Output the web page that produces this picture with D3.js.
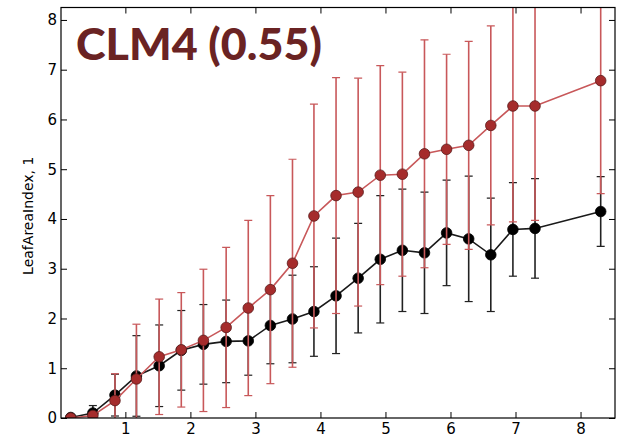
<!DOCTYPE html>
<html>
<head>
<meta charset="utf-8">
<script src="https://cdn.jsdelivr.net/npm/d3@7"></script>
<style>
html,body{margin:0;padding:0;background:#fff;}
svg{display:block;}
</style>
</head>
<body>
<script>
// ---- data ----
const xValues = [0.16, 0.50, 0.84, 1.17, 1.52, 1.86, 2.20, 2.55, 2.89, 3.23, 3.57, 3.90, 4.24, 4.58, 4.92, 5.26, 5.60, 5.94, 6.28, 6.62, 6.96, 7.30, 8.31];
const blackMean = [0.01, 0.10, 0.46, 0.845, 1.05, 1.36, 1.48, 1.54, 1.55, 1.86, 1.99, 2.14, 2.455, 2.81, 3.19, 3.37, 3.32, 3.72, 3.60, 3.28, 3.79, 3.81, 4.15];
const blackErr  = [0.03, 0.15, 0.42, 0.81, 0.82, 0.80, 0.80, 0.83, 0.69, 0.77, 0.88, 0.90, 1.16, 1.10, 1.28, 1.23, 1.22, 1.06, 1.26, 1.14, 0.94, 1.00, 0.70];
const redMean   = [0.00, 0.05, 0.35, 0.785, 1.23, 1.37, 1.56, 1.82, 2.21, 2.58, 3.11, 4.06, 4.47, 4.54, 4.88, 4.90, 5.31, 5.40, 5.48, 5.88, 6.27, 6.27, 6.78];
const redErr    = [0.02, 0.05, 0.54, 1.10, 1.16, 1.15, 1.43, 1.61, 1.76, 1.89, 2.09, 2.25, 2.37, 2.29, 2.20, 2.05, 2.29, 1.91, 2.09, 2.00, 2.33, 2.30, 2.27];
const xTicks = [1, 2, 3, 4, 5, 6, 7, 8];
const yTicks = [0, 1, 2, 3, 4, 5, 6, 7, 8];
const titleText = "CLM4 (0.55)";
const yLabel = "LeafAreaIndex, 1";

// ---- layout ----
const W = 621, H = 439;
const L = 61, R = 615, T = 7.5, B = 418;
const svg = d3.select("body").append("svg").attr("width", W).attr("height", H);

const x = d3.scaleLinear().domain([0.01, 8.53]).range([L, R]);
const y = d3.scaleLinear().domain([0, 8.25]).range([B, T]);

svg.append("defs").append("clipPath").attr("id","clip")
  .append("rect").attr("x", L).attr("y", T).attr("width", R-L).attr("height", B-T);

const plot = svg.append("g").attr("clip-path","url(#clip)");

function series(mean, err, opts){
  const g = plot.append("g");
  const data = xValues.map((xv,i)=>({x:xv, m:mean[i], e:err[i]}));
  const eb = g.selectAll(".eb").data(data).enter().append("g");
  eb.append("line")
    .attr("x1", d=>x(d.x)).attr("x2", d=>x(d.x))
    .attr("y1", d=>y(d.m - d.e)).attr("y2", d=>y(d.m + d.e))
    .attr("stroke", opts.err).attr("stroke-width", 1.6);
  [1,-1].forEach(s=>{
    eb.append("line")
      .attr("x1", d=>x(d.x)-4).attr("x2", d=>x(d.x)+4)
      .attr("y1", d=>y(d.m + s*d.e)).attr("y2", d=>y(d.m + s*d.e))
      .attr("stroke", opts.err).attr("stroke-width", 1.2);
  });
  g.append("path").datum(data)
    .attr("d", d3.line().x(d=>x(d.x)).y(d=>y(d.m)))
    .attr("fill","none").attr("stroke", opts.line).attr("stroke-width", 1.6);
  g.selectAll(".pt").data(data).enter().append("circle")
    .attr("cx", d=>x(d.x)).attr("cy", d=>y(d.m)).attr("r", opts.r)
    .attr("fill", opts.fill).attr("stroke", opts.edge).attr("stroke-width", 0.8);
}

series(blackMean, blackErr, {err:"#222", line:"#1a1a1a", fill:"#000", edge:"#000", r:5.3});
series(redMean, redErr, {err:"#c8585a", line:"#c8585a", fill:"#a52c2c", edge:"#5a1c1c", r:5.3});

// ---- axes ----
const axG = svg.append("g");
const tickFont = "'DejaVu Sans', sans-serif";
const axBottom = axG.append("g").attr("transform", `translate(0,${B})`)
  .call(d3.axisBottom(x).tickValues(xTicks).tickFormat(d3.format("d")).tickSizeInner(-6).tickSizeOuter(0).tickPadding(5));
const axTop = axG.append("g").attr("transform", `translate(0,${T})`)
  .call(d3.axisTop(x).tickValues(xTicks).tickFormat("").tickSizeInner(-6).tickSizeOuter(0));
const axLeft = axG.append("g").attr("transform", `translate(${L},0)`)
  .call(d3.axisLeft(y).tickValues(yTicks).tickFormat(d3.format("d")).tickSizeInner(-6).tickSizeOuter(0).tickPadding(4));
const axRight = axG.append("g").attr("transform", `translate(${R},0)`)
  .call(d3.axisRight(y).tickValues(yTicks).tickFormat("").tickSizeInner(-6).tickSizeOuter(0));

[axBottom, axTop, axLeft, axRight].forEach(a=>{
  a.select(".domain").remove();
  a.selectAll(".tick line").attr("stroke","#000").attr("stroke-width",1);
  a.selectAll("text").attr("font-family", tickFont).attr("font-size", 15).attr("fill","#000");
});

svg.append("rect").attr("x", L).attr("y", T).attr("width", R-L).attr("height", B-T)
  .attr("fill","none").attr("stroke","#000").attr("stroke-width",1.2);

svg.append("text")
  .attr("transform", `translate(33,${(T+B)/2 + 3}) rotate(-90)`)
  .attr("text-anchor","middle")
  .attr("font-family", tickFont).attr("font-size", 14).attr("fill","#000")
  .text(yLabel);

svg.append("text")
  .attr("x", 76).attr("y", 60)
  .attr("font-family", "Lato, 'Open Sans', sans-serif").attr("font-weight", 900)
  .attr("font-size", 44).attr("fill", "#6a2323")
  .attr("textLength", 246).attr("lengthAdjust","spacingAndGlyphs")
  .text(titleText);
</script>
</body>
</html>
